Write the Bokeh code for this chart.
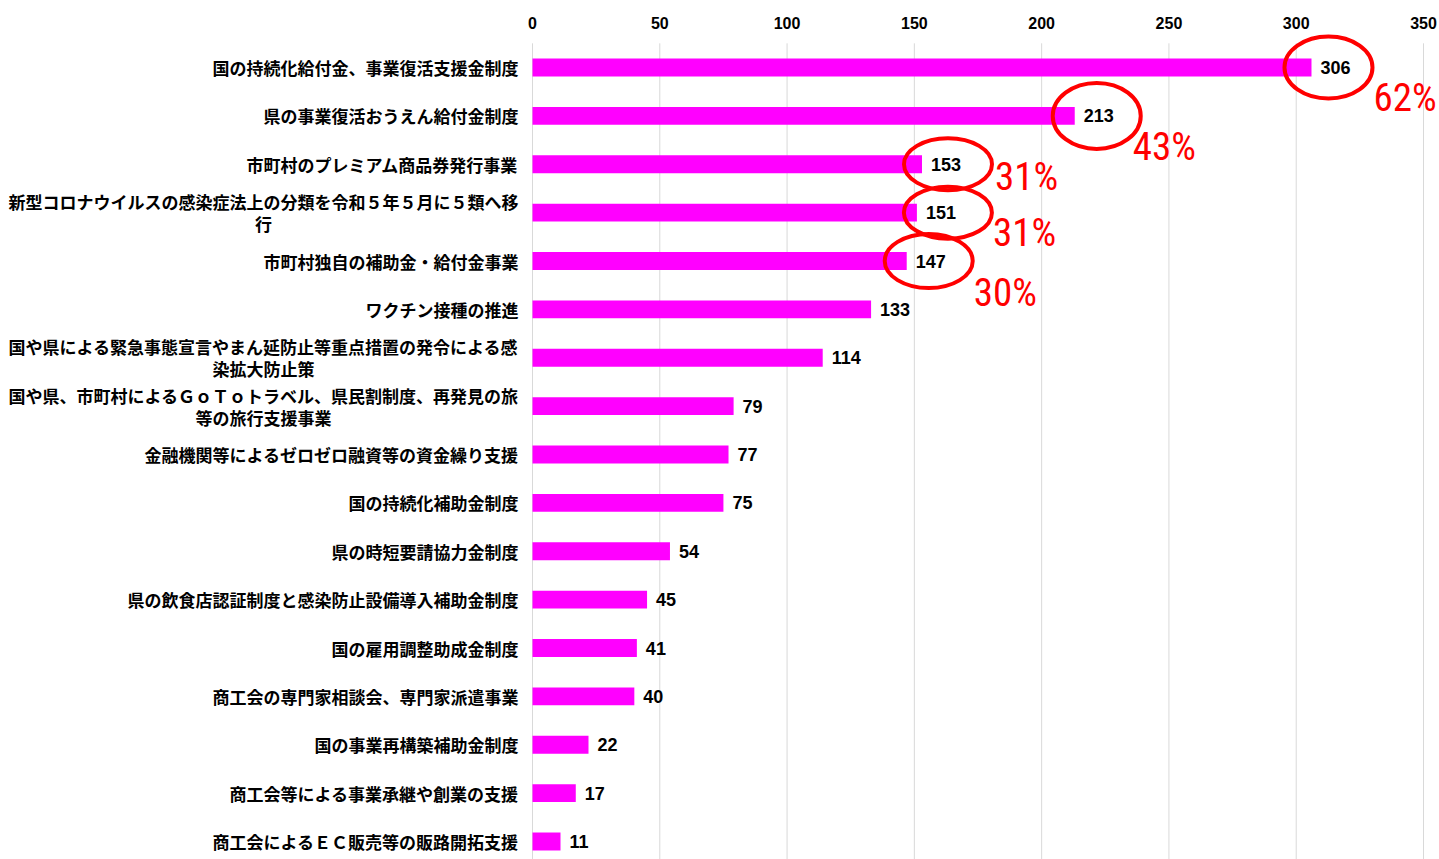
from bokeh.plotting import figure
from bokeh.models import Range1d, FixedTicker, ColumnDataSource
from bokeh.core.properties import value
from bokeh.embed import file_html
from bokeh.resources import INLINE

# ---------------- data ----------------
categories = [
    "国の持続化給付金、事業復活支援金制度",
    "県の事業復活おうえん給付金制度",
    "市町村のプレミアム商品券発行事業",
    "新型コロナウイルスの感染症法上の分類を令和５年５月に５類へ移行",
    "市町村独自の補助金・給付金事業",
    "ワクチン接種の推進",
    "国や県による緊急事態宣言やまん延防止等重点措置の発令による感染拡大防止策",
    "国や県、市町村によるＧｏＴｏトラベル、県民割制度、再発見の旅等の旅行支援事業",
    "金融機関等によるゼロゼロ融資等の資金繰り支援",
    "国の持続化補助金制度",
    "県の時短要請協力金制度",
    "県の飲食店認証制度と感染防止設備導入補助金制度",
    "国の雇用調整助成金制度",
    "商工会の専門家相談会、専門家派遣事業",
    "国の事業再構築補助金制度",
    "商工会等による事業承継や創業の支援",
    "商工会によるＥＣ販売等の販路開拓支援",
]
counts = [306, 213, 153, 151, 147, 133, 114, 79, 77, 75, 54, 45, 41, 40, 22, 17, 11]
highlight_pct = ["62%", "43%", "31%", "31%", "30%"]
x_ticks = [0, 50, 100, 150, 200, 250, 300, 350]

# ---------------- layout ----------------
W, H = 1439, 859
ZERO_PX = 532              # canvas x of value 0
BORDER_T = 31
frame_h = H - BORDER_T
ppu = 891 / 350.0          # pixels per unit on x
row = 48.375               # pixels per category row
first_off = 36             # px from frame top to first bar centre
x_start = -ZERO_PX / ppu
x_end = (W - ZERO_PX) / ppu
y_top = -first_off / row
y_bottom = (frame_h - first_off) / row

CJK = "Noto Sans CJK JP"
LAT = "Liberation Sans"
NARROW = "Roboto Condensed, Noto Sans Condensed, DejaVu Sans Condensed, Liberation Sans"
FS_CAT = 17
WRAP = 30

p = figure(width=W, height=H,
           x_range=Range1d(x_start, x_end), y_range=Range1d(y_bottom, y_top),
           x_axis_location="above", y_axis_location=None,
           toolbar_location=None, output_backend="svg",
           min_border_left=0, min_border_right=0,
           min_border_top=BORDER_T, min_border_bottom=0)
p.outline_line_color = None
p.xgrid.visible = False
p.ygrid.visible = False
p.background_fill_color = "white"
p.border_fill_color = "white"

ax = p.xaxis[0]
ax.ticker = FixedTicker(ticks=x_ticks)
ax.axis_line_color = None
ax.major_tick_line_color = None
ax.minor_tick_line_color = None
ax.major_tick_in = 0
ax.major_tick_out = 0
ax.major_label_standoff = 3
ax.major_label_text_font = LAT
ax.major_label_text_font_style = "bold"
ax.major_label_text_font_size = "16px"
ax.major_label_text_color = "black"

idx = list(range(len(categories)))

# grid lines (start just above the first row)
p.segment(x0=x_ticks, x1=x_ticks, y0=[-0.5] * len(x_ticks), y1=[y_bottom] * len(x_ticks),
          line_color="#d9d9d9", line_width=1)

# bars
p.hbar(y=idx, left=0, right=counts, height=0.372, fill_color="#FF00FF", line_color=None)

# value labels
p.text(x=counts, y=idx, text=[str(c) for c in counts], x_offset=9,
       text_align="left", text_baseline="middle",
       text_font=value(LAT), text_font_style="bold", text_font_size="18px",
       text_color="black")

# highlight ellipses + percentages for the top five
n_hl = len(highlight_pct)
hl = ColumnDataSource(dict(
    x=[v + off / ppu for v, off in zip(counts[:n_hl], [17, 22, 26, 31, 22])],
    y=idx[:n_hl],
    h=[62, 66, 52, 52, 54],
))
p.ellipse(x="x", y="y", width=88, height="h", width_units="screen", height_units="screen",
          source=hl, fill_color=None, line_color="#FF0000", line_width=4)

pct = ColumnDataSource(dict(
    x=counts[:n_hl], y=idx[:n_hl], t=highlight_pct,
    xo=[62, 58, 73, 76, 67], yo=[30, 31, 13, 20, 32],
))
p.text(x="x", y="y", text="t", x_offset="xo", y_offset="yo", source=pct,
       text_align="left", text_baseline="middle",
       text_font=value(NARROW), text_font_size="39px",
       text_color="#FF0000")

# category labels (right aligned, wrapped lines centred under the first line)
gap_px = 14
r_x, r_y, r_t, c_x, c_y, c_t = [], [], [], [], [], []
for i, cat in enumerate(categories):
    lines = [cat[k:k + WRAP] for k in range(0, len(cat), WRAP)]
    if len(lines) == 1:
        r_x.append(-gap_px / ppu); r_y.append(i); r_t.append(lines[0])
    else:
        dy = 11 / row
        r_x.append(-gap_px / ppu); r_y.append(i - dy); r_t.append(lines[0])
        c_x.append(-(gap_px + len(lines[0]) * FS_CAT / 2) / ppu); c_y.append(i + dy); c_t.append(lines[1])

cat_style = dict(text_font=value(CJK), text_font_style="bold", text_font_size=f"{FS_CAT}px",
                 text_color="black", text_baseline="middle")
p.text(x=r_x, y=r_y, text=r_t, text_align="right", **cat_style)
p.text(x=c_x, y=c_y, text=c_t, text_align="center", **cat_style)

open("out.html", "w").write(file_html(p, INLINE))
